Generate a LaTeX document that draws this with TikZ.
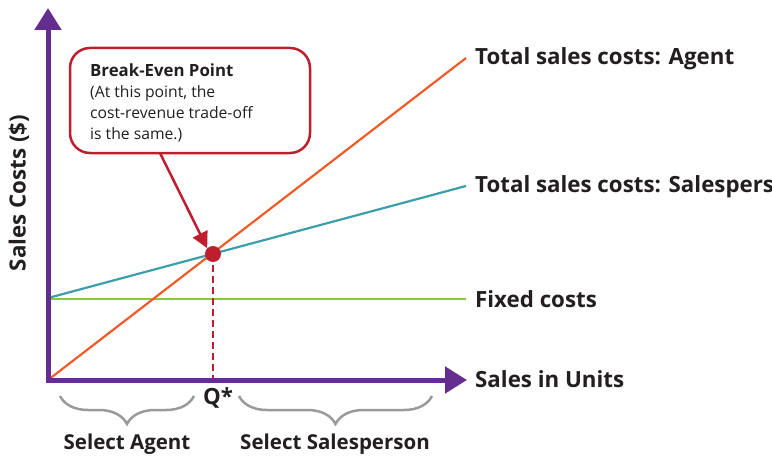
\documentclass[tikz,border=0pt]{standalone}
\usepackage{fontspec}
\setmainfont{Open Sans}
\usetikzlibrary{arrows.meta,decorations.pathreplacing}
\definecolor{axpurple}{HTML}{662D91}
\definecolor{agentred}{HTML}{F15A29}
\definecolor{teal}{HTML}{3A9FAA}
\definecolor{fixgreen}{HTML}{8DC63F}
\definecolor{bered}{HTML}{BE1E2D}
\definecolor{txt}{HTML}{231F20}
\definecolor{bracegray}{HTML}{9A9A9A}
\tikzset{
  axis/.style={line width=5pt, draw=axpurple, -{Triangle[length=22pt,width=26pt]}},
  lbl/.style={text=txt, font=\fontsize{22.3}{26}\selectfont\bfseries, inner sep=0pt},
  sublbl/.style={text=txt, font=\fontsize{20.5}{24}\selectfont\bfseries, inner sep=0pt},
  curve/.style={line width=2.2pt},
  bracestyle/.style={draw=bracegray, line width=2.5pt, decorate, decoration={brace, mirror, amplitude=28pt}},
}
\begin{document}
\begin{tikzpicture}[x=1pt,y=-1pt]
\useasboundingbox (0,0) rectangle (772,460);
\coordinate (O) at (48,380);
\coordinate (ytop) at (48,8);
\coordinate (xend) at (467,380);
\coordinate (aend) at (466,58);
\coordinate (s0) at (48,298);
\coordinate (send) at (466,186);
\coordinate (f0) at (48,299);
\coordinate (fend) at (466,299);
\coordinate (qx) at (213,380);
% lines
\draw[curve, fixgreen] (f0) -- (fend);
\draw[curve, teal] (s0) -- (send);
\draw[curve, agentred] (O) -- (aend);
\draw[bered, line width=2.5pt, dash pattern=on 7pt off 4pt] (213,254) -- (qx);
% axes
\draw[axis] (48,382.5) -- (ytop);
\draw[axis] (45.5,380) -- (xend);
% break-even dot
\node[circle, fill=bered, minimum size=16pt, inner sep=0pt] (be) at (213,254) {};
% callout
\node[draw=bered, line width=2.5pt, rounded corners=20pt, minimum width=240pt, minimum height=105pt, inner sep=0pt] (box) at (190,100.5) {};
\node[anchor=north west, text=txt, inner sep=0pt, align=left, font=\fontsize{15.7}{21}\selectfont] (boxtxt) at (90,64) {{\fontsize{16.8}{22}\selectfont\bfseries Break-Even Point}\\(At this point, the\\cost-revenue trade-off\\is the same.)};
\coordinate (bfrom) at (160,153);
\draw[bered, line width=2.5pt, -{Triangle[length=16pt,width=16pt]}] (bfrom) -- (be.north west);
% labels
\node[lbl, anchor=west] (la) at (475,59) {Total sales costs: Agent};
\node[lbl, anchor=west] (ls) at (475,187) {Total sales costs: Salesperson};
\node[lbl, anchor=west] (lf) at (475,299) {Fixed costs};
\node[lbl, anchor=west] (lx) at (475,379) {Sales in Units};
\node[lbl, rotate=90] (ly) at (19,193) {Sales Costs (\$)};
\node[lbl] (q) at (218,398) {Q*};
% braces
\coordinate (b1a) at (60,396);
\coordinate (b1b) at (194,396);
\coordinate (b2a) at (239,396);
\coordinate (b2b) at (432,396);
\draw[bracestyle] (b1a) -- (b1b);
\draw[bracestyle] (b2a) -- (b2b);
\node[sublbl] (sa) at (127,444) {Select Agent};
\node[sublbl] (ss) at (335,444) {Select Salesperson};
\end{tikzpicture}
\end{document}
